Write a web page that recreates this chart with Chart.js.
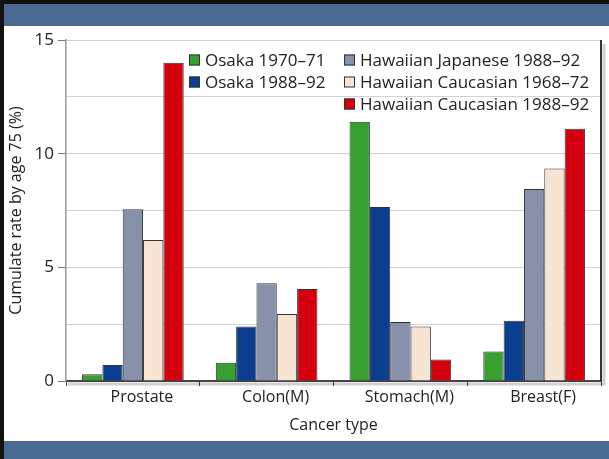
<!DOCTYPE html>
<html>
<head>
<meta charset="utf-8">
<script src="https://cdn.jsdelivr.net/npm/chart.js@4.4.1/dist/chart.umd.min.js"></script>
<style>
  body { margin: 0; }
  #wrap { position: relative; width: 609px; height: 459px; background: #fff; overflow: hidden; }
  .band { position: absolute; left: 0; width: 609px; background: #4a6a92; }
  #top { top: 0; height: 26px; border-top: 4px solid #111; box-sizing: border-box; }
  #bottom { top: 441px; height: 18px; }
  #leftEdge { position: absolute; left: 0; top: 0; width: 4px; height: 459px; background: #111; }
  #c { position: absolute; left: 0; top: 0; }
</style>
</head>
<body>
<div id="wrap">
  <div class="band" id="top"></div>
  <div class="band" id="bottom"></div>
  <div id="leftEdge"></div>
  <canvas id="c" width="609" height="459"></canvas>
</div>
<script>
// categories and series
var categorias = ['Prostate', 'Colon(M)', 'Stomach(M)', 'Breast(F)'];
var series = ['Osaka 1970–71', 'Osaka 1988–92', 'Hawaiian Japanese 1988–92', 'Hawaiian Caucasian 1968–72', 'Hawaiian Caucasian 1988–92'];
var osaka7071 = [0.3, 0.8, 11.4, 1.3];
var osaka8892 = [0.7, 2.4, 7.65, 2.65];
var hawJap8892 = [7.55, 4.3, 2.6, 8.45];
var hawCau6872 = [6.2, 2.95, 2.4, 9.35];
var hawCau8892 = [14.0, 4.05, 0.95, 11.1];
var yTicks = [0, 5, 10, 15];

var cores = ['#37a030', '#0b3e8f', '#8791aa', '#f8e4d2', '#d4000e'];
var valores = [osaka7071, osaka8892, hawJap8892, hawCau6872, hawCau8892];

var fonte = '"Open Sans", sans-serif';

// legenda em duas colunas, desenhada à mão
var legendaPlugin = {
    id: 'legenda',
    afterDatasetsDraw: function(chart) {
        var ctx = chart.ctx;
        var pos = [[189, 60], [189, 82], [344, 60], [344, 82], [344, 104]];
        ctx.save();
        ctx.font = '17px ' + fonte;
        ctx.textBaseline = 'middle';
        chart.data.datasets.forEach(function(ds, i) {
            var p = pos[i];
            ctx.fillStyle = ds.backgroundColor;
            ctx.fillRect(p[0], p[1] - 5.5, 11, 11);
            ctx.strokeStyle = '#333';
            ctx.lineWidth = 1;
            ctx.strokeRect(p[0] + 0.5, p[1] - 5, 10, 10);
            ctx.fillStyle = '#222';
            ctx.fillText(ds.label, p[0] + 16, p[1] + 1);
        });
        ctx.restore();
    }
};

// moldura do gráfico (borda direita escura e sombra)
var molduraPlugin = {
    id: 'moldura',
    afterDraw: function(chart) {
        var a = chart.chartArea;
        var ctx = chart.ctx;
        ctx.save();
        ctx.strokeStyle = 'rgba(0,0,0,0.18)';
        ctx.lineWidth = 3;
        ctx.beginPath();
        ctx.moveTo(a.left + 2, a.bottom + 3);
        ctx.lineTo(a.right + 3, a.bottom + 3);
        ctx.lineTo(a.right + 3, a.top + 4);
        ctx.stroke();
        ctx.strokeStyle = '#333';
        ctx.lineWidth = 2;
        ctx.beginPath();
        ctx.moveTo(a.right, a.top);
        ctx.lineTo(a.right, a.bottom);
        ctx.stroke();
        ctx.restore();
    }
};

new Chart(document.getElementById('c'), {
    type: 'bar',
    data: {
        labels: categorias,
        datasets: series.map(function(nome, i) {
            return {
                label: nome,
                data: valores[i],
                backgroundColor: cores[i],
                borderColor: '#333',
                borderWidth: 1,
                categoryPercentage: 0.76,
                barPercentage: 1.0
            };
        })
    },
    options: {
        responsive: false,
        animation: false,
        layout: { padding: { top: 40, right: 8, bottom: 18, left: 5 } },
        plugins: {
            legend: { display: false },
            tooltip: { enabled: false }
        },
        scales: {
            x: {
                offset: true,
                grid: {
                    offset: true,
                    drawOnChartArea: false,
                    tickLength: 5,
                    tickColor: '#444'
                },
                border: { color: '#444', width: 2 },
                ticks: {
                    color: '#222',
                    font: { family: fonte, size: 16 },
                    padding: 2,
                    labelOffset: 9,
                    maxRotation: 0
                },
                title: {
                    display: true,
                    text: 'Cancer type',
                    color: '#222',
                    font: { family: fonte, size: 16 },
                    padding: { top: 0, bottom: 6 }
                },
                afterFit: function(s) { s.height = 60; }
            },
            y: {
                min: 0,
                max: 15,
                ticks: {
                    stepSize: 2.5,
                    color: '#222',
                    font: { family: fonte, size: 17 },
                    padding: 4,
                    callback: function(v) { return yTicks.indexOf(v) >= 0 ? v : ''; }
                },
                grid: {
                    color: '#d2d2d2',
                    tickLength: 8,
                    tickColor: function(c) {
                        return c.tick && yTicks.indexOf(c.tick.value) >= 0 ? '#777' : 'rgba(0,0,0,0)';
                    }
                },
                border: { color: '#999', width: 1.5 },
                title: {
                    display: true,
                    text: 'Cumulate rate by age 75 (%)',
                    color: '#222',
                    font: { family: fonte, size: 16 },
                    padding: { top: 2, bottom: 0 }
                },
                afterFit: function(s) { s.width = 61; }
            }
        }
    },
    plugins: [legendaPlugin, molduraPlugin]
});
</script>
</body>
</html>
